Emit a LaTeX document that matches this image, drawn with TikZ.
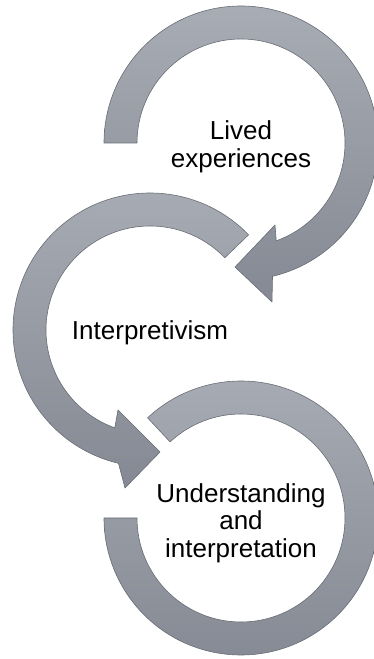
\documentclass[tikz,border=0pt]{standalone}
\usepackage{fontspec}
\setmainfont{Liberation Sans}
\definecolor{arcLight}{RGB}{168,172,180}
\definecolor{arcDark}{RGB}{132,137,147}
\definecolor{arcEdge}{RGB}{105,109,117}

\begin{document}
\begin{tikzpicture}[x=1pt, y=1pt,
    ring/.style={draw=arcEdge, line width=0.6pt, line join=round,
        top color=arcLight, bottom color=arcDark},
    ringtext/.style={text=black, align=center, inner sep=0pt,
        font=\fontsize{26}{27.5}\selectfont}]
    % centres of the three circular arrows:
    % outer radius 137, inner radius 104
    \useasboundingbox (0,0) rectangle (374,659);
    \coordinate (c1) at (241,516);
    \coordinate (c2) at (150,329);
    \coordinate (c3) at (241,141);

    % bottom ring, open on the upper left
    \path[ring] ([shift={(133:137)}]c3) arc[start angle=133, end angle=-180, radius=137]
        -- ([shift={(180:104)}]c3) arc[start angle=-180, end angle=133, radius=104] -- cycle;

    % middle arrow, turning left and down
    \path[ring] ([shift={(44:137)}]c2) arc[start angle=44, end angle=256.7, radius=137]
        -- ([shift={(-25,-158)}]c2) -- ([shift={(10,-122)}]c2) -- ([shift={(-32,-80)}]c2)
        -- ([shift={(250.2:104)}]c2) arc[start angle=250.2, end angle=44, radius=104] -- cycle;

    % top arrow, turning right and down
    \path[ring] ([shift={(180:137)}]c1) arc[start angle=180, end angle=-76.7, radius=137]
        -- ([shift={(31,-159)}]c1) -- ([shift={(-6,-124)}]c1) -- ([shift={(34,-82)}]c1)
        -- ([shift={(-70.2:104)}]c1) arc[start angle=-70.2, end angle=180, radius=104] -- cycle;

    \node[ringtext] (lived) at ([yshift=-4]c1) {Lived\\experiences};
    \node[ringtext] (interp) at ([yshift=-3]c2) {Interpretivism};
    \node[ringtext] (underst) at ([yshift=-5]c3) {Understanding\\and\\interpretation};
\end{tikzpicture}
\end{document}
